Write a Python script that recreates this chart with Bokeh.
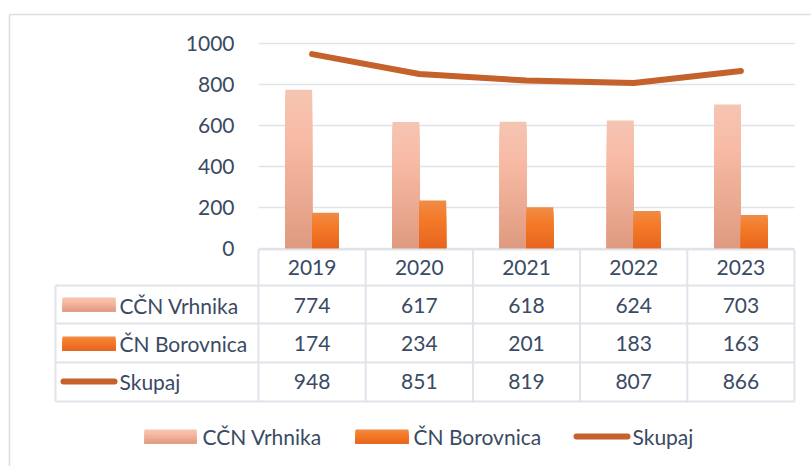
from bokeh.plotting import figure
from bokeh.models import Range1d
from bokeh.core.properties import value
from bokeh.embed import file_html
from bokeh.resources import INLINE

# ---------------- data ----------------
years = ["2019", "2020", "2021", "2022", "2023"]
vrhnika = [774, 617, 618, 624, 703]
borovnica = [174, 234, 201, 183, 163]
skupaj = [948, 851, 819, 807, 866]
series_names = ["CČN Vrhnika", "ČN Borovnica", "Skupaj"]
y_ticks = [0, 200, 400, 600, 800, 1000]

# ---------------- style ----------------
FONT = value("Lato")
FS = "21px"
TXT = "#3a4a63"
GRID = "#e0e4ea"
LINE_C = "#c5612a"
VR_STOPS = [(0.0, "#f5c5b3"), (0.3, "#f8bba5"), (1.0, "#df9a80")]
BO_STOPS = [(0.0, "#f08c46"), (0.4, "#f47a27"), (1.0, "#e6651f")]

# layout helpers in picture pixels
CAT_W = 107.2      # px per category
X_LEFT = 258       # x of first category boundary
Y_ZERO = 248       # y of value 0
PX_PER_UNIT = 0.205
W, H = 811, 466


def X(px):
    return (px - X_LEFT) / CAT_W


def Y(py):
    return (Y_ZERO - py) / PX_PER_UNIT


def hex2rgb(h):
    h = h.lstrip("#")
    return tuple(int(h[i:i + 2], 16) for i in (0, 2, 4))


def grad(stops, t):
    for (t0, c0), (t1, c1) in zip(stops, stops[1:]):
        if t <= t1:
            f = (t - t0) / (t1 - t0) if t1 > t0 else 0
            a, b = hex2rgb(c0), hex2rgb(c1)
            return "#%02x%02x%02x" % tuple(round(a[k] + (b[k] - a[k]) * f) for k in range(3))
    return stops[-1][1]


p = figure(width=W, height=H, x_range=Range1d(X(0), X(W)), y_range=Range1d(Y(H), Y(0)),
           output_backend="svg", toolbar_location=None, x_axis_location=None, y_axis_location=None,
           min_border=0, min_border_left=0, min_border_right=0, min_border_top=0, min_border_bottom=0)
p.grid.visible = False
p.outline_line_color = None
p.background_fill_color = "white"
p.border_fill_color = "white"

# outer chart border (top and left visible)
p.segment(x0=[X(9), X(9)], y0=[Y(14), Y(14)], x1=[X(W), X(9)], y1=[Y(14), Y(H)],
          line_color="#d9dde4", line_width=1.5)

ncat = len(years)
centers = [i + 0.5 for i in range(ncat)]

# gridlines and y tick labels
p.segment(x0=[0] * len(y_ticks), x1=[ncat] * len(y_ticks), y0=y_ticks, y1=y_ticks,
          line_color=GRID, line_width=1.6)
p.text(x=[X(234)] * len(y_ticks), y=y_ticks, text=[str(t) for t in y_ticks],
       text_align="right", text_baseline="middle", text_font=FONT, text_font_size=FS, text_color=TXT)


# gradient bars: overlapping slices (each reaches the bar bottom) so no seams appear
def grad_bars(lefts, rights, tops, bottoms, stops, n):
    L, R, T, B, C = [], [], [], [], []
    for l, r, t, b in zip(lefts, rights, tops, bottoms):
        for k in range(n):
            L.append(l)
            R.append(r)
            T.append(t - (t - b) * k / n)
            B.append(b)
            C.append(grad(stops, (k + 0.5) / n))
    p.quad(left=L, right=R, top=T, bottom=B, fill_color=C, line_color=None)


BW = 0.25
grad_bars([c - BW for c in centers], centers, vrhnika, [0] * ncat, VR_STOPS, 40)
grad_bars(centers, [c + BW for c in centers], borovnica, [0] * ncat, BO_STOPS, 20)

# total line
p.line(x=centers, y=skupaj, line_color=LINE_C, line_width=6, line_cap="round", line_join="round")

# ---------------- data table ----------------
row_edges = [249, 285, 323, 362, 401]
hx0, hx1, hy0, hy1 = [], [], [], []
hx0.append(0); hx1.append(ncat); hy0.append(Y(row_edges[0])); hy1.append(Y(row_edges[0]))
for ry in row_edges[1:]:
    hx0.append(X(55)); hx1.append(ncat); hy0.append(Y(ry)); hy1.append(Y(ry))
hx0.append(X(55)); hx1.append(X(55)); hy0.append(Y(row_edges[1])); hy1.append(Y(row_edges[-1]))
for cx in range(ncat + 1):
    hx0.append(cx); hx1.append(cx); hy0.append(Y(row_edges[0])); hy1.append(Y(row_edges[-1]))
p.segment(x0=hx0, x1=hx1, y0=hy0, y1=hy1, line_color=GRID, line_width=2)

# header years
p.text(x=centers, y=[Y(267)] * ncat, text=years, text_align="center", text_baseline="middle",
       text_font=FONT, text_font_size=FS, text_color=TXT)
row_y = [Y(305), Y(343), Y(381)]
for ry, vals in zip(row_y, [vrhnika, borovnica, skupaj]):
    p.text(x=centers, y=[ry] * ncat, text=[str(v) for v in vals], text_align="center",
           text_baseline="middle", text_font=FONT, text_font_size=FS, text_color=TXT)
# row headers
p.text(x=[X(119)] * 3, y=row_y, text=series_names, text_align="left", text_baseline="middle",
       text_font=FONT, text_font_size=FS, text_color=TXT)
# row keys
grad_bars([X(62)], [X(115)], [Y(297)], [Y(311)], VR_STOPS, 10)
grad_bars([X(62)], [X(115)], [Y(336)], [Y(350)], BO_STOPS, 10)
p.line(x=[X(63), X(114)], y=[Y(381), Y(381)], line_color=LINE_C, line_width=6, line_cap="round")

# ---------------- bottom legend ----------------
LY = 436
grad_bars([X(144)], [X(196)], [Y(LY - 7)], [Y(LY + 7)], VR_STOPS, 10)
grad_bars([X(355)], [X(408)], [Y(LY - 7)], [Y(LY + 7)], BO_STOPS, 10)
p.line(x=[X(576), X(627)], y=[Y(LY), Y(LY)], line_color=LINE_C, line_width=6, line_cap="round")
p.text(x=[X(202), X(413), X(632)], y=[Y(LY)] * 3, text=series_names, text_align="left",
       text_baseline="middle", text_font=FONT, text_font_size=FS, text_color=TXT)

open("out.html", "w").write(file_html(p, INLINE))
